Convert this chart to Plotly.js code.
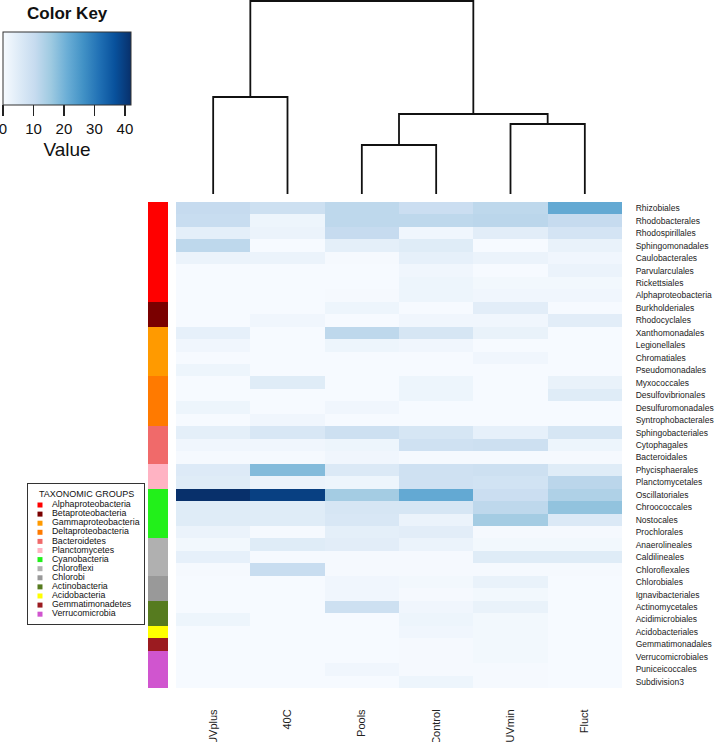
<!DOCTYPE html>
<html>
<head>
<meta charset="utf-8">
<script src="https://cdn.plot.ly/plotly-3.0.1.min.js"></script>
<style>html,body{margin:0;padding:0;background:#fff;}#chart{width:716px;height:742px;}</style>
</head>
<body>
<div id="chart"></div>
<script>
// ---------------- DATA ----------------
const columns = ["UVplus", "40C", "Pools", "Control", "UVmin", "Fluct"];

const orders = [
  "Rhizobiales","Rhodobacterales","Rhodospirillales","Sphingomonadales","Caulobacterales",
  "Parvularculales","Rickettsiales","Alphaproteobacteria","Burkholderiales","Rhodocyclales",
  "Xanthomonadales","Legionellales","Chromatiales","Pseudomonadales","Myxococcales",
  "Desulfovibrionales","Desulfuromonadales","Syntrophobacterales","Sphingobacteriales","Cytophagales",
  "Bacteroidales","Phycisphaerales","Planctomycetales","Oscillatoriales","Chroococcales",
  "Nostocales","Prochlorales","Anaerolineales","Caldilineales","Chloroflexales",
  "Chlorobiales","Ignavibacteriales","Actinomycetales","Acidimicrobiales","Acidobacteriales",
  "Gemmatimonadales","Verrucomicrobiales","Puniceicoccales","Subdivision3"
];

// values per order, columns: UVplus, 40C, Pools, Control, UVmin, Fluct
const values = [
  [10.5, 9.0, 11.5, 9.5, 11.5, 22.0],
  [10.0, 2.0, 11.5, 11.5, 12.0, 10.5],
  [4.0, 2.5, 10.5, 1.5, 4.5, 7.5],
  [11.5, 0.3, 4.0, 5.0, 0.3, 3.0],
  [2.5, 2.5, 0.5, 3.5, 2.5, 1.5],
  [0.3, 0.3, 0.3, 1.5, 0.3, 2.5],
  [0.3, 0.3, 0.3, 2.0, 1.0, 1.0],
  [0.3, 0.3, 0.5, 2.0, 1.5, 1.5],
  [0.3, 0.3, 2.0, 0.3, 4.5, 0.3],
  [0.3, 1.5, 0.3, 1.5, 1.5, 4.5],
  [3.5, 0.3, 11.5, 7.0, 3.0, 0.3],
  [1.5, 0.3, 2.0, 1.5, 0.3, 0.3],
  [0.3, 0.3, 0.3, 0.3, 1.5, 0.3],
  [2.0, 0.3, 0.3, 0.3, 0.3, 0.3],
  [0.3, 5.0, 0.3, 2.0, 0.3, 3.0],
  [0.3, 0.3, 0.3, 2.0, 0.3, 5.0],
  [2.0, 0.3, 1.5, 0.3, 0.3, 0.3],
  [0.3, 1.5, 0.3, 0.3, 0.3, 0.3],
  [4.0, 6.5, 9.0, 7.0, 3.5, 7.0],
  [1.5, 1.5, 2.0, 8.5, 9.0, 2.0],
  [0.5, 0.5, 1.5, 0.5, 0.5, 0.5],
  [5.5, 18.5, 6.0, 8.5, 9.0, 5.0],
  [5.0, 2.5, 2.0, 8.5, 8.0, 12.0],
  [42.0, 39.5, 15.0, 22.0, 9.5, 13.5],
  [5.0, 5.0, 7.0, 7.0, 11.5, 17.0],
  [5.0, 5.0, 6.5, 2.5, 15.0, 6.0],
  [2.5, 0.5, 4.0, 4.5, 0.5, 0.5],
  [1.0, 5.0, 4.5, 2.5, 1.0, 1.0],
  [3.5, 0.5, 0.5, 0.5, 5.0, 5.0],
  [0.5, 10.0, 0.5, 0.5, 0.5, 0.5],
  [0.3, 0.3, 1.5, 1.0, 3.0, 0.3],
  [0.3, 0.3, 1.5, 0.5, 1.0, 0.3],
  [0.3, 0.3, 9.0, 1.5, 3.0, 0.3],
  [2.0, 0.3, 0.3, 2.0, 1.0, 0.3],
  [0.3, 0.3, 0.3, 1.5, 1.0, 0.3],
  [0.3, 0.3, 0.3, 0.5, 1.0, 0.3],
  [0.3, 0.3, 0.3, 0.5, 1.0, 0.3],
  [0.3, 0.3, 1.5, 0.5, 0.5, 0.3],
  [0.3, 0.3, 0.3, 2.0, 0.5, 0.3]
];

const groupNames = [
  "Alphaproteobacteria","Betaproteobacteria","Gammaproteobacteria","Deltaproteobacteria",
  "Bacteroidetes","Planctomycetes","Cyanobacteria","Chloroflexi","Chlorobi",
  "Actinobacteria","Acidobacteria","Gemmatimonadetes","Verrucomicrobia"
];

// taxonomic group of each order (same order as `orders`)
const orderGroups = [
  "Alphaproteobacteria","Alphaproteobacteria","Alphaproteobacteria","Alphaproteobacteria",
  "Alphaproteobacteria","Alphaproteobacteria","Alphaproteobacteria","Alphaproteobacteria",
  "Betaproteobacteria","Betaproteobacteria",
  "Gammaproteobacteria","Gammaproteobacteria","Gammaproteobacteria","Gammaproteobacteria",
  "Deltaproteobacteria","Deltaproteobacteria","Deltaproteobacteria","Deltaproteobacteria",
  "Bacteroidetes","Bacteroidetes","Bacteroidetes",
  "Planctomycetes","Planctomycetes",
  "Cyanobacteria","Cyanobacteria","Cyanobacteria","Cyanobacteria",
  "Chloroflexi","Chloroflexi","Chloroflexi",
  "Chlorobi","Chlorobi",
  "Actinobacteria","Actinobacteria",
  "Acidobacteria",
  "Gemmatimonadetes",
  "Verrucomicrobia","Verrucomicrobia","Verrucomicrobia"
];

// column dendrogram merges: [left, right, height]; numbers = column index, "cK" = K-th merge
const dendroMerges = [
  [0, 1, 29.1],
  [2, 3, 14.7],
  [4, 5, 21.0],
  ["c1", "c2", 24.0],
  ["c0", "c3", 57.9]
];

// ---------------- STYLES ----------------
const groupColors = [
  "#FF0000","#7A0000","#FF9A00","#FF7A00","#F06A6A","#FFB3C3","#22F01A",
  "#B0B0B0","#999999","#567B1F","#FFFF00","#9B1B20","#D055CF"
];
const blues = ["#F7FBFF","#DEEBF7","#C6DBEF","#9ECAE1","#6BAED6","#4292C6","#2171B5","#08519C","#08306B"];
const blueScale = blues.map((c, i) => [i / (blues.length - 1), c]);
const FONT = "Liberation Sans, Arial, Helvetica, sans-serif";
const W = 716, H = 742;
const px = v => v / W;
const py = v => 1 - v / H;

// ---------------- TRACES ----------------
const heat = {
  type: "heatmap", x: columns, y: orders, z: values,
  xaxis: "x", yaxis: "y",
  zmin: 0, zmax: 42, colorscale: blueScale, zsmooth: false,
  hoverinfo: "skip",
  colorbar: {
    orientation: "h", x: px(67), xanchor: "center", y: py(32), yanchor: "top",
    len: 128, lenmode: "pixels", thickness: 73, thicknessmode: "pixels",
    xpad: 0, ypad: 0, outlinecolor: "#333", outlinewidth: 1,
    ticks: "outside", ticklen: 11, tickwidth: 1.3, tickcolor: "#222",
    ticklabeloverflow: "allow",
    tickvals: [0, 10, 20, 30, 40], tickfont: {size: 15, color: "#111", family: FONT},
    title: {text: "Value", side: "bottom", font: {size: 19, color: "#111", family: FONT}}
  }
};

const groupIdx = orderGroups.map(g => groupNames.indexOf(g));
const stepScale = [];
groupColors.forEach((c, k) => {
  stepScale.push([k / groupColors.length, c]);
  stepScale.push([(k + 1) / groupColors.length, c]);
});
const strip = {
  type: "heatmap", x: ["group"], y: orders, z: groupIdx.map(g => [g]),
  xaxis: "x2", yaxis: "y2", zmin: -0.5, zmax: groupColors.length - 0.5,
  colorscale: stepScale, showscale: false, hoverinfo: "skip"
};

// dendrogram segments
const nodePos = {};
const dx = [], dy = [];
const pos = n => (typeof n === "number") ? {x: n, y: 0} : nodePos[n];
dendroMerges.forEach((m, k) => {
  const a = pos(m[0]), b = pos(m[1]), h = m[2];
  dx.push(a.x, a.x, b.x, b.x, null);
  dy.push(a.y, h, h, b.y, null);
  nodePos["c" + k] = {x: (a.x + b.x) / 2, y: h};
});
const dendro = {
  type: "scatter", mode: "lines", x: dx, y: dy, xaxis: "x4", yaxis: "y4",
  line: {color: "#111", width: 1.8}, hoverinfo: "skip", showlegend: false
};

const legMarkers = {
  type: "scatter", mode: "markers", xaxis: "x3", yaxis: "y3",
  x: groupNames.map(() => 0), y: groupNames.map((_, i) => i),
  marker: {symbol: "square", size: 5, color: groupColors},
  hoverinfo: "skip", showlegend: false
};
const legText = {
  type: "scatter", mode: "text", xaxis: "x3", yaxis: "y3",
  x: groupNames.map(() => 12), y: groupNames.map((_, i) => i),
  text: groupNames, textposition: "middle right",
  textfont: {size: 8.8, color: "#111", family: FONT},
  hoverinfo: "skip", showlegend: false, cliponaxis: false
};

// ---------------- LAYOUT ----------------
const hidden = {visible: false, showgrid: false, zeroline: false, fixedrange: true};
const boxAxis = {showline: true, mirror: true, linecolor: "#333", linewidth: 1.2,
  showgrid: false, zeroline: false, showticklabels: false, ticks: "", fixedrange: true};
const layout = {
  width: W, height: H,
  margin: {l: 0, r: 0, t: 0, b: 0, pad: 0},
  paper_bgcolor: "#fff", plot_bgcolor: "rgba(0,0,0,0)",
  font: {family: FONT, color: "#111"},
  showlegend: false, hovermode: false,
  xaxis: {domain: [px(176), px(622)], anchor: "y", side: "bottom", tickangle: -90,
    ticks: "outside", ticklen: 16, tickcolor: "rgba(0,0,0,0)",
    tickfont: {size: 11, color: "#222", family: FONT},
    showgrid: false, zeroline: false, showline: false, fixedrange: true},
  yaxis: {domain: [py(688), py(202)], anchor: "x", side: "right", autorange: "reversed",
    ticks: "outside", ticklen: 11, tickcolor: "rgba(0,0,0,0)",
    tickfont: {size: 8.5, color: "#222", family: FONT},
    showgrid: false, zeroline: false, showline: false, fixedrange: true},
  xaxis2: Object.assign({domain: [px(148), px(168)], anchor: "y2"}, hidden),
  yaxis2: Object.assign({domain: [py(688), py(202)], anchor: "x2", autorange: "reversed"}, hidden),
  xaxis3: Object.assign({domain: [px(28), px(144)], anchor: "y3", range: [-12, 104]}, boxAxis),
  yaxis3: Object.assign({domain: [py(624), py(484)], anchor: "x3", range: [13.08, -2.31]}, boxAxis),
  xaxis4: Object.assign({domain: [px(176), px(622)], anchor: "y4", range: [-0.5, 5.5]}, hidden),
  yaxis4: Object.assign({domain: [py(194), 1], anchor: "x4", range: [0, 58.2]}, hidden),
  annotations: [
    {text: "<b>Color Key</b>", xref: "paper", yref: "paper", x: px(67), y: py(14),
      xanchor: "center", yanchor: "middle", showarrow: false,
      font: {size: 17, color: "#111", family: FONT}},
    {text: "TAXONOMIC GROUPS", xref: "paper", yref: "paper", x: px(37), y: py(494),
      xanchor: "left", yanchor: "middle", showarrow: false,
      font: {size: 9, color: "#111", family: FONT}}
  ]
};

Plotly.newPlot("chart", [heat, strip, dendro, legMarkers, legText], layout,
  {displayModeBar: false, staticPlot: true});
</script>
</body>
</html>
